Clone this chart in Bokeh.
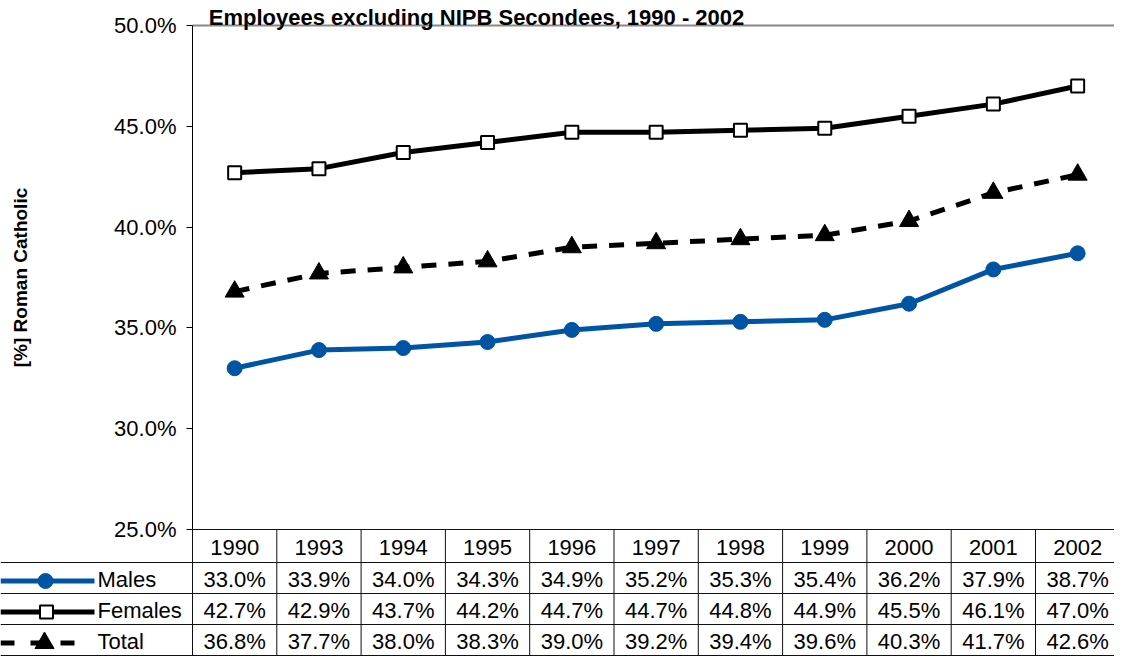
from bokeh.plotting import figure
from bokeh.models import Range1d, LinearAxis, FixedTicker, PrintfTickFormatter, Label
from bokeh.core.properties import value
from bokeh.embed import file_html
from bokeh.resources import INLINE

# ---------------- data ----------------
years = ["1990", "1993", "1994", "1995", "1996", "1997", "1998", "1999", "2000", "2001", "2002"]
males = [33.0, 33.9, 34.0, 34.3, 34.9, 35.2, 35.3, 35.4, 36.2, 37.9, 38.7]
females = [42.7, 42.9, 43.7, 44.2, 44.7, 44.7, 44.8, 44.9, 45.5, 46.1, 47.0]
total = [36.8, 37.7, 38.0, 38.3, 39.0, 39.2, 39.4, 39.6, 40.3, 41.7, 42.6]
series_names = ["Males", "Females", "Total"]
y_ticks = [25, 30, 35, 40, 45, 50]
title_text = "Employees excluding NIPB Secondees, 1990 - 2002"
y_label = "[%] Roman Catholic"

# ---------------- layout constants (canvas pixels) ----------------
CW, CH = 1114, 656
PL = 192          # plot-area left
COLW = 84.3       # category column width
PT, PB = 25, 529  # plot-area top / bottom
YMIN, YMAX = 25.0, 50.0
PPU = (PB - PT) / (YMAX - YMIN)
X0 = -0.5 - PL / COLW
X1 = X0 + CW / COLW
YTOP = YMAX + PT / PPU
YBOT = YMIN - (CH - PB) / PPU
ROW_EDGES = [PB, PB + 33, PB + 64, PB + 95, PB + 126]

def dx(cx):
    return X0 + cx / COLW

def dy(cy):
    return YTOP - cy / PPU

FONT = value("Liberation Sans")
BLUE = "#0054A4"

p = figure(width=CW, height=CH, output_backend="svg", toolbar_location=None,
           x_range=Range1d(X0, X1), y_range=Range1d(YBOT, YTOP),
           x_axis_type=None, y_axis_type=None, min_border=0)
p.outline_line_color = None
p.background_fill_color = "white"
p.border_fill_color = "white"

# y axis placed at the plot-area left edge
yaxis = LinearAxis(ticker=FixedTicker(ticks=y_ticks),
                   formatter=PrintfTickFormatter(format="%.1f%%"),
                   fixed_location=-0.5, bounds=(YMIN, YMAX),
                   axis_label=y_label)
yaxis.axis_line_color = "black"
yaxis.axis_line_width = 1
yaxis.major_tick_out = 6
yaxis.major_tick_in = 0
yaxis.minor_tick_line_color = None
yaxis.major_tick_line_color = "black"
yaxis.major_label_standoff = 10
yaxis.major_label_text_font = "Liberation Sans"
yaxis.major_label_text_font_size = "22px"
yaxis.major_label_text_color = "black"
yaxis.axis_label_text_font = "Liberation Sans"
yaxis.axis_label_text_font_size = "19px"
yaxis.axis_label_text_font_style = "bold"
yaxis.axis_label_text_color = "black"
yaxis.axis_label_standoff = 80
p.add_layout(yaxis, "left")

# top border of plot area
p.segment(x0=[-0.5], y0=[YMAX], x1=[X1], y1=[YMAX], line_color="#888888", line_width=2)

# title
p.add_layout(Label(x=dx(476), y=dy(17), text=title_text, text_font="Liberation Sans",
                   text_font_size="22px", text_font_style="bold", text_align="center",
                   text_baseline="alphabetic", text_color="black"))

xs = list(range(len(years)))

# ---------------- series ----------------
p.line(xs, females, line_color="black", line_width=5)
p.scatter(xs, females, marker="square", size=13, fill_color="white", line_color="black", line_width=2)

p.line(xs, total, line_color="black", line_width=5, line_dash="15 12")
p.scatter(xs, total, marker="triangle", size=19, fill_color="black", line_color="black")

p.line(xs, males, line_color=BLUE, line_width=5)
p.scatter(xs, males, marker="circle", size=15, fill_color=BLUE, line_color=BLUE)

# ---------------- data table ----------------
grid_col = "#111111"
p.segment(x0=[-0.5], y0=[dy(ROW_EDGES[0])], x1=[X1], y1=[dy(ROW_EDGES[0])], line_color=grid_col, line_width=1)
hy = [dy(e) for e in ROW_EDGES[1:]]
p.segment(x0=[dx(0)] * len(hy), y0=hy, x1=[X1] * len(hy), y1=hy, line_color=grid_col, line_width=1)
vx = [i - 0.5 for i in range(len(years) + 1)]
p.segment(x0=vx, y0=[dy(ROW_EDGES[0])] * len(vx), x1=vx, y1=[dy(ROW_EDGES[-1])] * len(vx),
          line_color=grid_col, line_width=1)

def row_center(i):
    return dy((ROW_EDGES[i] + ROW_EDGES[i + 1]) / 2 + 1)

p.text(x=xs, y=[row_center(0)] * len(xs), text=years, text_font=FONT, text_font_size="22px",
       text_align="center", text_baseline="middle", text_color="black")

for r, vals in enumerate([males, females, total], start=1):
    labels = ["%.1f%%" % v for v in vals]
    p.text(x=xs, y=[row_center(r)] * len(xs), text=labels, text_font=FONT, text_font_size="22px",
           text_align="center", text_baseline="middle", text_color="black")

# legend keys inside the table
for r, name in enumerate(series_names, start=1):
    yc = row_center(r)
    p.text(x=[dx(97)], y=[yc], text=[name], text_font=FONT, text_font_size="22px",
           text_align="left", text_baseline="middle", text_color="black")
    yk = yc - 2 / PPU
    if name == "Males":
        p.line([dx(0), dx(94)], [yk, yk], line_color=BLUE, line_width=5)
        p.scatter([dx(45)], [yk], marker="circle", size=15, fill_color=BLUE, line_color=BLUE)
    elif name == "Females":
        p.line([dx(0), dx(94)], [yk, yk], line_color="black", line_width=5)
        p.scatter([dx(46)], [yk], marker="square", size=13, fill_color="white", line_color="black", line_width=2)
    else:
        p.line([dx(0), dx(77)], [yk, yk], line_color="black", line_width=5, line_dash="14 16")
        p.scatter([dx(44)], [yk], marker="triangle", size=19, fill_color="black", line_color="black")

open("out.html", "w").write(file_html(p, INLINE))
